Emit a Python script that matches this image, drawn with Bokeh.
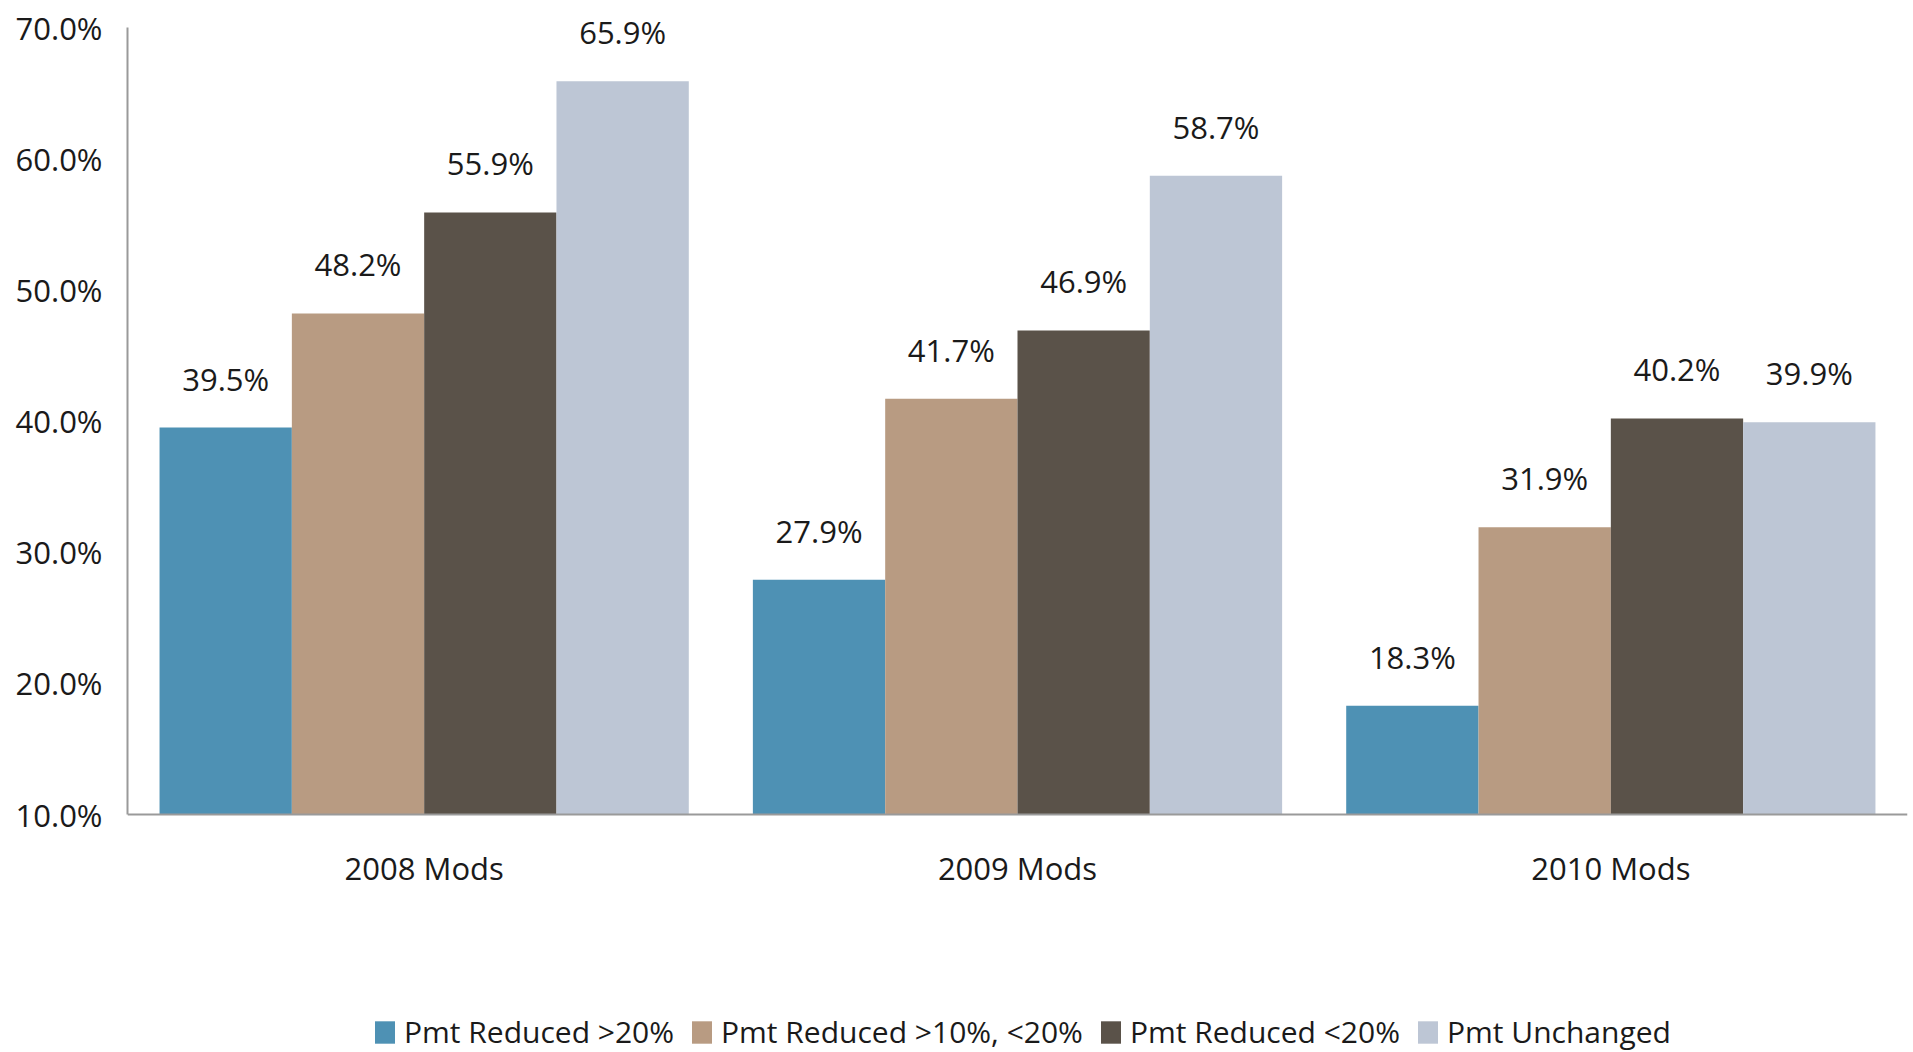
from bokeh.plotting import figure
from bokeh.models import (FactorRange, Range1d, ColumnDataSource, FixedTicker,
                          NumeralTickFormatter, Legend, LegendItem)
from bokeh.transform import dodge
from bokeh.core.properties import value
from bokeh.embed import file_html
from bokeh.resources import INLINE

categories = ["2008 Mods", "2009 Mods", "2010 Mods"]
series_names = ["Pmt Reduced >20%", "Pmt Reduced >10%, <20%", "Pmt Reduced <20%", "Pmt Unchanged"]
reduced_gt20 = [0.395, 0.279, 0.183]
reduced_10_20 = [0.482, 0.417, 0.319]
reduced_lt20 = [0.559, 0.469, 0.402]
unchanged = [0.659, 0.587, 0.399]
y_ticks = [0.1, 0.2, 0.3, 0.4, 0.5, 0.6, 0.7]

colors = ["#4E91B4", "#B89B82", "#5A5249", "#BDC6D5"]
offsets = [-0.3345, -0.1115, 0.1115, 0.3345]
bar_w = 0.223
FONT = "Open Sans"
FS = "31px"

# frame spans the full page height; axis baseline (0.1) sits at y=814 px, 0.7 at y=27 px
W, H = 1913, 1052
TOP, AXIS_Y = 27, 814
per_px = (0.7 - 0.1) / (AXIS_Y - TOP)
y_start = 0.1 - (H - AXIS_Y) * per_px
y_end = 0.7 + TOP * per_px

series = [reduced_gt20, reduced_10_20, reduced_lt20, unchanged]
data = {"cat": categories}
for i, s in enumerate(series):
    data[f"s{i}"] = s
    data[f"l{i}"] = [f"{v*100:.1f}%" for v in s]
src = ColumnDataSource(data)

p = figure(width=W, height=H, x_range=FactorRange(*categories),
           y_range=Range1d(y_start, y_end), output_backend="svg", toolbar_location=None,
           min_border_left=127, min_border_right=6, min_border_top=0,
           min_border_bottom=0)
p.outline_line_color = None
p.grid.visible = False
p.background_fill_color = "white"
p.border_fill_color = "white"

renderers = []
for i in range(4):
    r = p.vbar(x=dodge("cat", offsets[i], range=p.x_range), top=f"s{i}", bottom=0.1,
               width=bar_w, source=src, fill_color=colors[i], line_color=None)
    renderers.append(r)
    p.text(x=dodge("cat", offsets[i], range=p.x_range), y=f"s{i}", text=f"l{i}",
           source=src, text_align="center", text_baseline="alphabetic", y_offset=-49,
           text_font=value(FONT), text_font_size=FS, text_color="#1a1a1a")

for ax in (p.xaxis[0], p.yaxis[0]):
    ax.axis_line_color = "#9a9a9a"
    ax.axis_line_width = 2
    ax.major_tick_line_color = None
    ax.minor_tick_line_color = None
    ax.major_label_text_font = FONT
    ax.major_label_text_font_size = FS
    ax.major_label_text_color = "#1a1a1a"

p.yaxis.ticker = FixedTicker(ticks=y_ticks)
p.yaxis.formatter = NumeralTickFormatter(format="0.0%")
p.yaxis.bounds = (0.1, 0.7)
p.yaxis.major_label_standoff = 19
p.xaxis.fixed_location = 0.1
p.xaxis.major_label_standoff = 26

legend = Legend(items=[LegendItem(label=series_names[i], renderers=[renderers[i]]) for i in range(4)],
                orientation="horizontal", location=(245, 0),
                glyph_width=25, glyph_height=28, label_standoff=7, spacing=15,
                padding=0, margin=0, border_line_color=None, background_fill_alpha=0,
                label_text_font=FONT, label_text_font_size="30px", label_text_color="#1a1a1a")
p.add_layout(legend, "center")

open("out.html", "w").write(file_html(p, INLINE))
